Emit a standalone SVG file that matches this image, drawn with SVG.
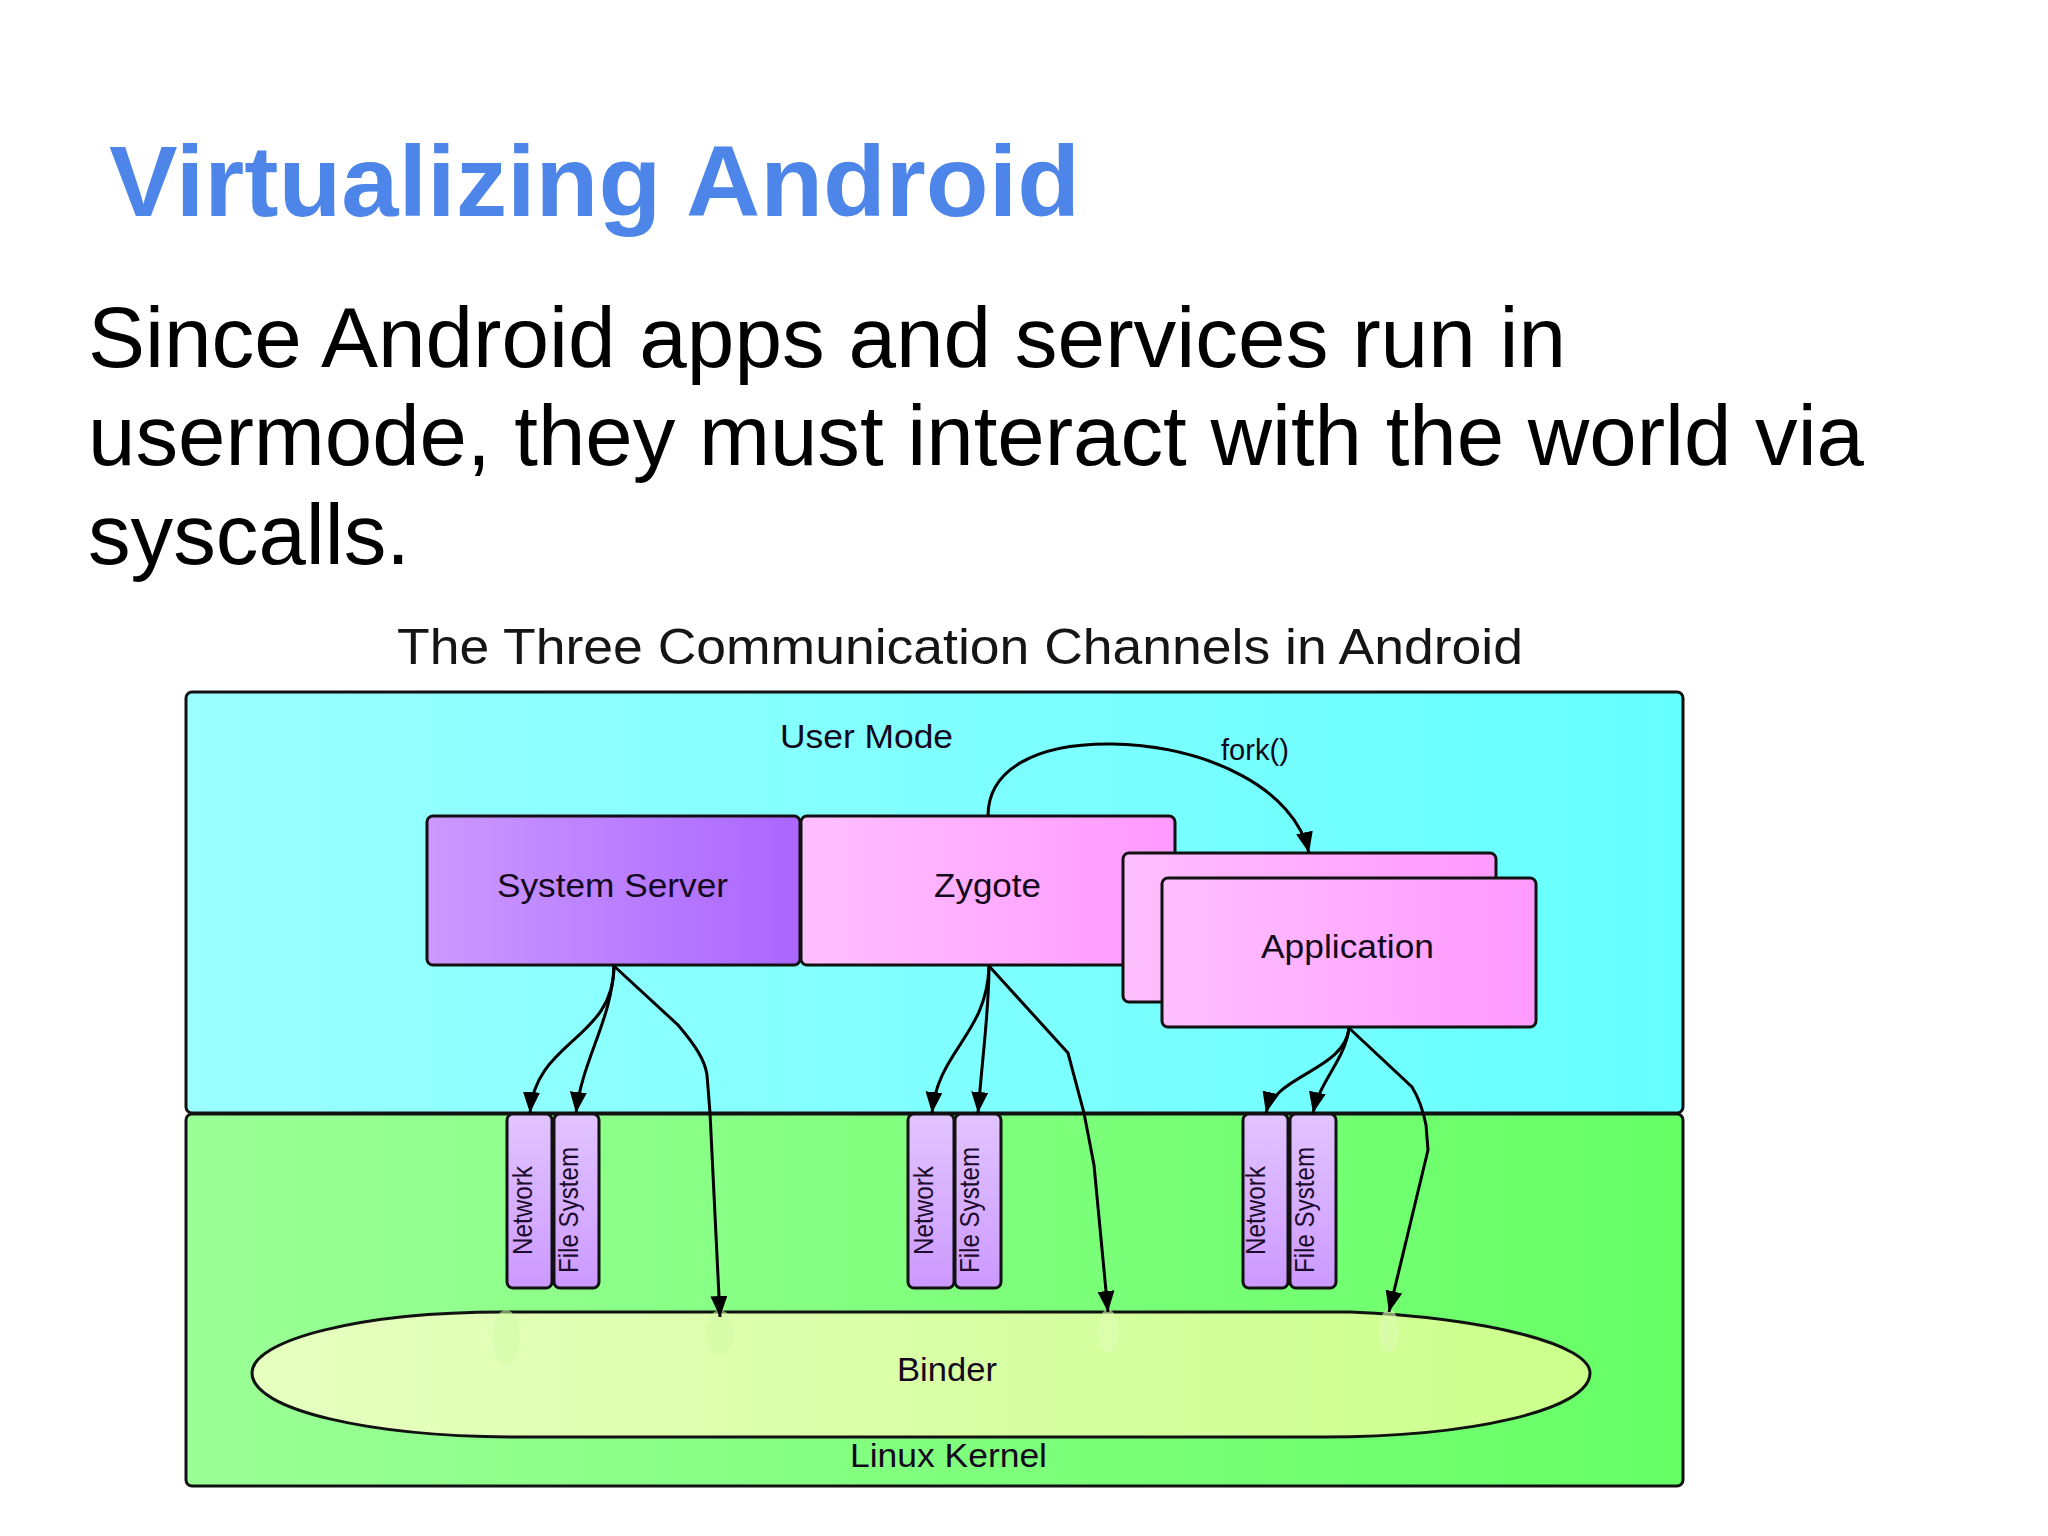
<svg xmlns="http://www.w3.org/2000/svg" width="2048" height="1536" viewBox="0 0 2048 1536">
<style>
text{font-family:"Liberation Sans",Arial,sans-serif;fill:#000}
.n{stroke:#111;stroke-width:3}
.l{font-size:33px;fill:#14081c}
.v{font-size:28px;fill:#1c0c2c}
.b{font-size:85px}
.c{fill:none;stroke:#000;stroke-width:3;marker-end:url(#a)}
</style>
<defs>
<marker id="a" markerUnits="userSpaceOnUse" markerWidth="23" markerHeight="19" refX="21" refY="8.5" orient="auto"><path d="M0 0L21 8.5L0 17Z" fill="#000"/></marker>
<linearGradient id="um"><stop offset="0" stop-color="#9bffff"/><stop offset="1" stop-color="#66ffff"/></linearGradient>
<linearGradient id="lk"><stop offset="0" stop-color="#9bff96"/><stop offset="1" stop-color="#66ff66"/></linearGradient>
<linearGradient id="ss"><stop offset="0" stop-color="#cc99ff"/><stop offset="1" stop-color="#aa66ff"/></linearGradient>
<linearGradient id="pk"><stop offset="0" stop-color="#ffc0ff"/><stop offset="1" stop-color="#ff99ff"/></linearGradient>
<linearGradient id="sm" x1="0" y1="0" x2="0" y2="1"><stop offset="0" stop-color="#e2c4ff"/><stop offset="1" stop-color="#cc99ff"/></linearGradient>
<linearGradient id="bd"><stop offset="0" stop-color="#e6ffc0"/><stop offset="1" stop-color="#ccff8c"/></linearGradient>
</defs>
<rect width="2048" height="1536" fill="#fff"/>
<text x="109" y="216" font-size="100" font-weight="bold" style="fill:#4d86e8" textLength="971" lengthAdjust="spacingAndGlyphs">Virtualizing Android</text>
<text class="b" x="88" y="367" textLength="1478" lengthAdjust="spacingAndGlyphs">Since Android apps and services run in</text>
<text class="b" x="88" y="465" textLength="1776" lengthAdjust="spacingAndGlyphs">usermode, they must interact with the world via</text>
<text class="b" x="88" y="564" textLength="322" lengthAdjust="spacingAndGlyphs">syscalls.</text>
<text x="397" y="664" font-size="50" style="fill:#151515" textLength="1126" lengthAdjust="spacingAndGlyphs">The Three Communication Channels in Android</text>
<g id="user-mode"><rect class="n" x="186" y="692" width="1497" height="421" rx="6" fill="url(#um)"/><text class="l" x="780" y="748" textLength="173" lengthAdjust="spacingAndGlyphs">User Mode</text></g>
<g id="linux-kernel"><rect class="n" x="186" y="1114" width="1497" height="372" rx="6" fill="url(#lk)"/><text class="l" x="850" y="1467" textLength="197" lengthAdjust="spacingAndGlyphs">Linux Kernel</text></g>
<g id="system-server"><rect class="n" x="427" y="816" width="373" height="149" rx="6" fill="url(#ss)"/><text class="l" x="497" y="897" textLength="231" lengthAdjust="spacingAndGlyphs">System Server</text></g>
<g id="zygote"><rect class="n" x="801" y="816" width="374" height="149" rx="6" fill="url(#pk)"/><text class="l" x="934" y="897" textLength="107" lengthAdjust="spacingAndGlyphs">Zygote</text></g>
<g id="application-back"><rect class="n" x="1123" y="853" width="373" height="149" rx="6" fill="url(#pk)"/></g>
<g id="application"><rect class="n" x="1162" y="878" width="374" height="149" rx="6" fill="url(#pk)"/><text class="l" x="1261" y="958" textLength="173" lengthAdjust="spacingAndGlyphs">Application</text></g>
<g id="binder"><path class="n" d="M503 1312L1350 1312C1490 1318 1590 1345 1590 1373C1590 1410 1470 1437 1323 1437L520 1437C370 1437 252 1410 252 1373C252 1340 360 1312 503 1312Z" fill="url(#bd)"/>
<ellipse cx="506" cy="1337" rx="14" ry="27" fill="#d4fca8" fill-opacity=".55"/><ellipse cx="720" cy="1333" rx="14" ry="23" fill="#d4fca8" fill-opacity=".55"/><ellipse cx="1108" cy="1331" rx="10" ry="22" fill="#e0fcb4" fill-opacity=".6"/><ellipse cx="1389" cy="1331" rx="10" ry="22" fill="#e0fcb4" fill-opacity=".6"/>
<text class="l" x="897" y="1381" textLength="100" lengthAdjust="spacingAndGlyphs">Binder</text></g>
<g id="network-1"><rect class="n" x="507" y="1114" width="45" height="174" rx="6" fill="url(#sm)"/><text class="v" transform="translate(532 1255) rotate(-90)" textLength="89" lengthAdjust="spacingAndGlyphs">Network</text></g>
<g id="filesystem-1"><rect class="n" x="554" y="1114" width="45" height="174" rx="6" fill="url(#sm)"/><text class="v" transform="translate(578 1273) rotate(-90)" textLength="126" lengthAdjust="spacingAndGlyphs">File System</text></g>
<g id="network-2"><rect class="n" x="908" y="1114" width="46" height="174" rx="6" fill="url(#sm)"/><text class="v" transform="translate(933 1255) rotate(-90)" textLength="89" lengthAdjust="spacingAndGlyphs">Network</text></g>
<g id="filesystem-2"><rect class="n" x="955" y="1114" width="46" height="174" rx="6" fill="url(#sm)"/><text class="v" transform="translate(979 1273) rotate(-90)" textLength="126" lengthAdjust="spacingAndGlyphs">File System</text></g>
<g id="network-3"><rect class="n" x="1243" y="1114" width="45" height="174" rx="6" fill="url(#sm)"/><text class="v" transform="translate(1265 1255) rotate(-90)" textLength="89" lengthAdjust="spacingAndGlyphs">Network</text></g>
<g id="filesystem-3"><rect class="n" x="1290" y="1114" width="46" height="174" rx="6" fill="url(#sm)"/><text class="v" transform="translate(1314 1273) rotate(-90)" textLength="126" lengthAdjust="spacingAndGlyphs">File System</text></g>
<g id="connectors">
<path class="c" d="M614 966C614 1040 535 1040 530 1113"/>
<path class="c" d="M614 966C612 1020 582 1060 576 1113"/>
<path class="c" d="M614 966L678 1025C695 1045 705 1060 707 1075L710 1113L720 1317"/>
<path class="c" d="M989 966C987 1035 938 1050 932 1113"/>
<path class="c" d="M989 966C989 1010 984 1040 978 1113"/>
<path class="c" d="M989 966L1068 1053L1084 1113L1094 1165L1108 1312"/>
<path class="c" d="M1349 1028C1345 1070 1275 1075 1266 1113"/>
<path class="c" d="M1349 1028C1345 1060 1320 1080 1313 1113"/>
<path class="c" d="M1349 1028L1412 1087C1420 1100 1424 1115 1426 1125L1428 1150L1389 1312"/>
<path class="c" d="M988 816C988 770 1035 743 1112 744C1210 746 1295 790 1309 853"/>
</g>
<text id="fork" x="1221" y="760" style="font-size:29px;fill:#14081c" textLength="68" lengthAdjust="spacingAndGlyphs">fork()</text>
</svg>
